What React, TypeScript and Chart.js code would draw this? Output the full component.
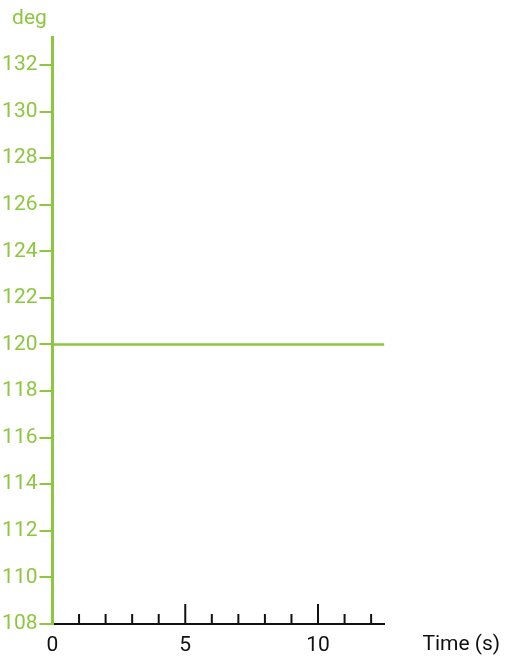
import React, { useEffect, useRef } from "react";
import { Chart, registerables } from "chart.js";

Chart.register(...registerables);

const times: number[] = [0, 12.5];
const angles: number[] = [120, 120];
const xRange: number[] = [0, 12.5];
const yRange: number[] = [108, 133.2];
const xMajorEvery = 5;
const yStep = 2;
const yTitle = "deg";
const xTitle = "Time (s)";

const GREEN = "#8dc63f";
const BLACK = "#111111";
const FONT = "Roboto";

const tickPlugin = {
  id: "upTicks",
  beforeDraw(chart: any) {
    const xs = chart.scales.x;
    const ctx = chart.ctx;
    const bottom = chart.chartArea.bottom;
    ctx.save();
    ctx.strokeStyle = BLACK;
    ctx.lineWidth = 2;
    for (const t of xs.ticks) {
      const px = xs.getPixelForValue(t.value);
      const len = t.value % xMajorEvery === 0 ? 20 : 10;
      ctx.beginPath();
      ctx.moveTo(px, bottom);
      ctx.lineTo(px, bottom - len);
      ctx.stroke();
    }
    ctx.restore();
  },
  afterDraw(chart: any) {
    const ctx = chart.ctx;
    const area = chart.chartArea;
    ctx.save();
    ctx.font = `21px ${FONT}`;
    ctx.textBaseline = "alphabetic";
    ctx.fillStyle = GREEN;
    ctx.textAlign = "center";
    ctx.fillText(yTitle, area.left - 23, 24);
    ctx.fillStyle = BLACK;
    ctx.textAlign = "left";
    ctx.fillText(xTitle, area.right + 38, 650);
    ctx.restore();
  },
};

export default function App() {
  const ref = useRef<HTMLCanvasElement>(null);
  useEffect(() => {
    if (!ref.current) return;
    const chart = new Chart(ref.current, {
      type: "line",
      data: {
        datasets: [
          {
            data: times.map((t, i) => ({ x: t, y: angles[i] })),
            borderColor: GREEN,
            borderWidth: 2.5,
            pointRadius: 0,
            fill: false,
          },
        ],
      },
      options: {
        animation: false,
        responsive: false,
        events: [],
        layout: { padding: { top: 37, left: 2, right: 121.6, bottom: 0 } },
        plugins: {
          legend: { display: false },
          tooltip: { enabled: false },
          title: { display: false },
        },
        scales: {
          x: {
            type: "linear",
            min: xRange[0],
            max: xRange[1],
            afterFit: (s: any) => {
              s.height = 36;
            },
            grid: { display: false, drawTicks: false },
            border: { display: true, color: BLACK, width: 2 },
            ticks: {
              stepSize: 1,
              includeBounds: false,
              autoSkip: false,
              maxRotation: 0,
              padding: 9,
              color: BLACK,
              font: { family: FONT, size: 21 },
              callback: (v: any) => (Number(v) % xMajorEvery === 0 ? String(v) : ""),
            },
          },
          y: {
            type: "linear",
            min: yRange[0],
            max: yRange[1],
            afterFit: (s: any) => {
              s.width = 50.5;
            },
            grid: {
              display: true,
              drawOnChartArea: false,
              drawTicks: true,
              tickLength: 13,
              color: GREEN,
              lineWidth: 2,
            },
            border: { display: true, color: GREEN, width: 3 },
            ticks: {
              stepSize: yStep,
              includeBounds: false,
              padding: 2,
              color: GREEN,
              font: { family: FONT, size: 21 },
            },
          },
        },
      },
      plugins: [tickPlugin],
    });
    return () => chart.destroy();
  }, []);
  return (
    <div style={{ position: "absolute", left: 0, top: 0, width: 506, height: 660 }}>
      <canvas ref={ref} width={506} height={660} style={{ display: "block" }} />
    </div>
  );
}
